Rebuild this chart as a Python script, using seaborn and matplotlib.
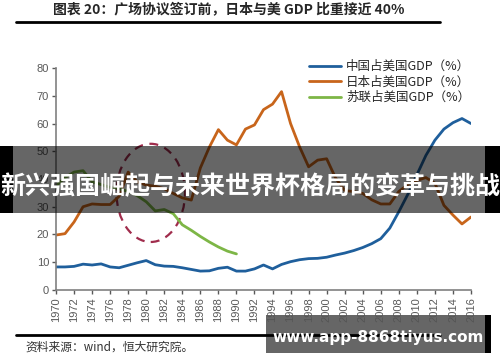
import pandas as pd
import matplotlib.pyplot as plt
import seaborn as sns
from matplotlib.patches import Ellipse, Rectangle
from matplotlib.lines import Line2D

# data (% of US GDP)
years = list(range(1970, 2017))
china = [8.3, 8.3, 8.5, 9.3, 9.0, 9.4, 8.3, 8.0, 8.9, 9.8,
         10.6, 9.1, 8.6, 8.5, 8.0, 7.4, 6.8, 6.9, 7.8, 8.2,
         6.8, 6.8, 7.6, 9.0, 7.6, 9.2, 10.2, 10.9, 11.3, 11.4,
         11.8, 12.6, 13.3, 14.2, 15.3, 16.7, 18.5, 22.3, 28.2, 34.5,
         41.5, 48.5, 54.0, 58.0, 60.3, 61.8, 60.0]
japan = [19.8, 20.3, 24.5, 30.0, 31.0, 30.8, 30.8, 33.8, 42.5, 39.0,
         37.8, 37.4, 36.5, 34.8, 33.2, 32.4, 44.0, 51.5, 57.8, 54.0,
         52.3, 58.0, 59.5, 65.0, 67.0, 71.5, 60.0, 51.6, 44.4, 46.8,
         47.3, 40.3, 35.8, 35.5, 34.8, 32.5, 31.0, 31.0, 35.5, 38.0,
         39.5, 40.5, 38.5, 30.5, 27.0, 23.8, 26.3]
ussr_years = list(range(1970, 1991))
ussr = [37.5, 40.5, 42.5, 43.0, 39.0, 38.0, 37.0, 36.5, 35.5, 34.0,
        31.8, 28.5, 29.0, 27.5, 23.5, 21.5, 19.3, 17.3, 15.5, 14.0, 13.0]

labels = ['中国占美国GDP（%）', '日本占美国GDP（%）', '苏联占美国GDP（%）']
colors = ['#1f5f9c', '#c8651b', '#7db646']

title = '图表 20：广场协议签订前，日本与美 GDP 比重接近 40%'
source = '资料来源：wind，恒大研究院。'
banner = '新兴强国崛起与未来世界杯格局的变革与挑战'
site = 'www.app-8868tiyus.com'

sns.set_style('white')
plt.rcParams['font.family'] = ['Liberation Sans', 'Noto Sans CJK SC', 'DejaVu Sans']
cjk = ['Noto Sans CJK SC', 'DejaVu Sans']

fig = plt.figure(figsize=(5, 3.62), dpi=100)
ax = fig.add_axes([0.112, 0.199, 0.830, 0.613])

sns.lineplot(x=years, y=china, color=colors[0], linewidth=2, ax=ax)
sns.lineplot(x=years, y=japan, color=colors[1], linewidth=2, ax=ax)
sns.lineplot(x=ussr_years, y=ussr, color=colors[2], linewidth=2, ax=ax)

ax.set_xlim(1970, 2016)
ax.set_ylim(0, 80)
ax.set_xticks(range(1970, 2017, 2))
ax.set_yticks(range(0, 81, 10))
ax.tick_params(axis='x', rotation=90, labelsize=8, colors='#595959',
               length=3, width=1, bottom=True, pad=2)
ax.tick_params(axis='y', labelsize=8, colors='#595959', length=3, width=1,
               left=True, pad=2)
for s in ['top', 'right']:
    ax.spines[s].set_visible(False)
for s in ['left', 'bottom']:
    ax.spines[s].set_color('#808080')
    ax.spines[s].set_linewidth(1.2)

# dashed circle around early 1980s
ax.add_patch(Ellipse((1980.5, 35), 7.6, 35.4, fill=False, edgecolor='#a02c4c',
                     linestyle=(0, (4, 3)), linewidth=1.6))

handles = [Line2D([], [], color=c, linewidth=2) for c in colors]
fig.legend(handles, labels, loc='upper left', bbox_to_anchor=(0.6, 0.858),
           frameon=False, fontsize=9, handlelength=2.6, handletextpad=0.4,
           labelspacing=0.2, borderpad=0.2, prop={'family': cjk, 'size': 9})

# header / footer
fig.text(0.457, 0.972, title, ha='center', va='center', fontsize=10,
         fontweight='bold', family=cjk)
fig.add_artist(Line2D([0.032, 0.88], [0.939, 0.939], color='black', linewidth=2))
fig.add_artist(Line2D([0.032, 0.88], [0.075, 0.075], color='black', linewidth=2))
fig.text(0.05, 0.041, source, ha='left', va='center', fontsize=8.5,
         style='italic', color='#333333', family=cjk)

# overlay banners
fig.add_artist(Rectangle((0.026, 0.411), 0.944, 0.185, transform=fig.transFigure,
                         facecolor='black', alpha=0.6, edgecolor='none'))
fig.add_artist(Rectangle((0, 0.411), 0.026, 0.185, transform=fig.transFigure,
                         facecolor='black', edgecolor='none'))
fig.add_artist(Rectangle((0.97, 0.411), 0.03, 0.185, transform=fig.transFigure,
                         facecolor='black', edgecolor='none'))
fig.text(0.5, 0.484, banner, ha='center', va='center', fontsize=18,
         fontweight='bold', color='white', family=cjk)
fig.add_artist(Rectangle((0.532, 0.025), 0.438, 0.105, transform=fig.transFigure,
                         facecolor='#555555', alpha=0.9, edgecolor='none'))
fig.add_artist(Rectangle((0.97, 0.025), 0.012, 0.105, transform=fig.transFigure,
                         facecolor='black', edgecolor='none'))
fig.text(0.756, 0.069, site, ha='center', va='center', fontsize=11,
         fontweight='bold', color='white', family=['DejaVu Sans'])

fig.savefig('out.png', dpi=100)
